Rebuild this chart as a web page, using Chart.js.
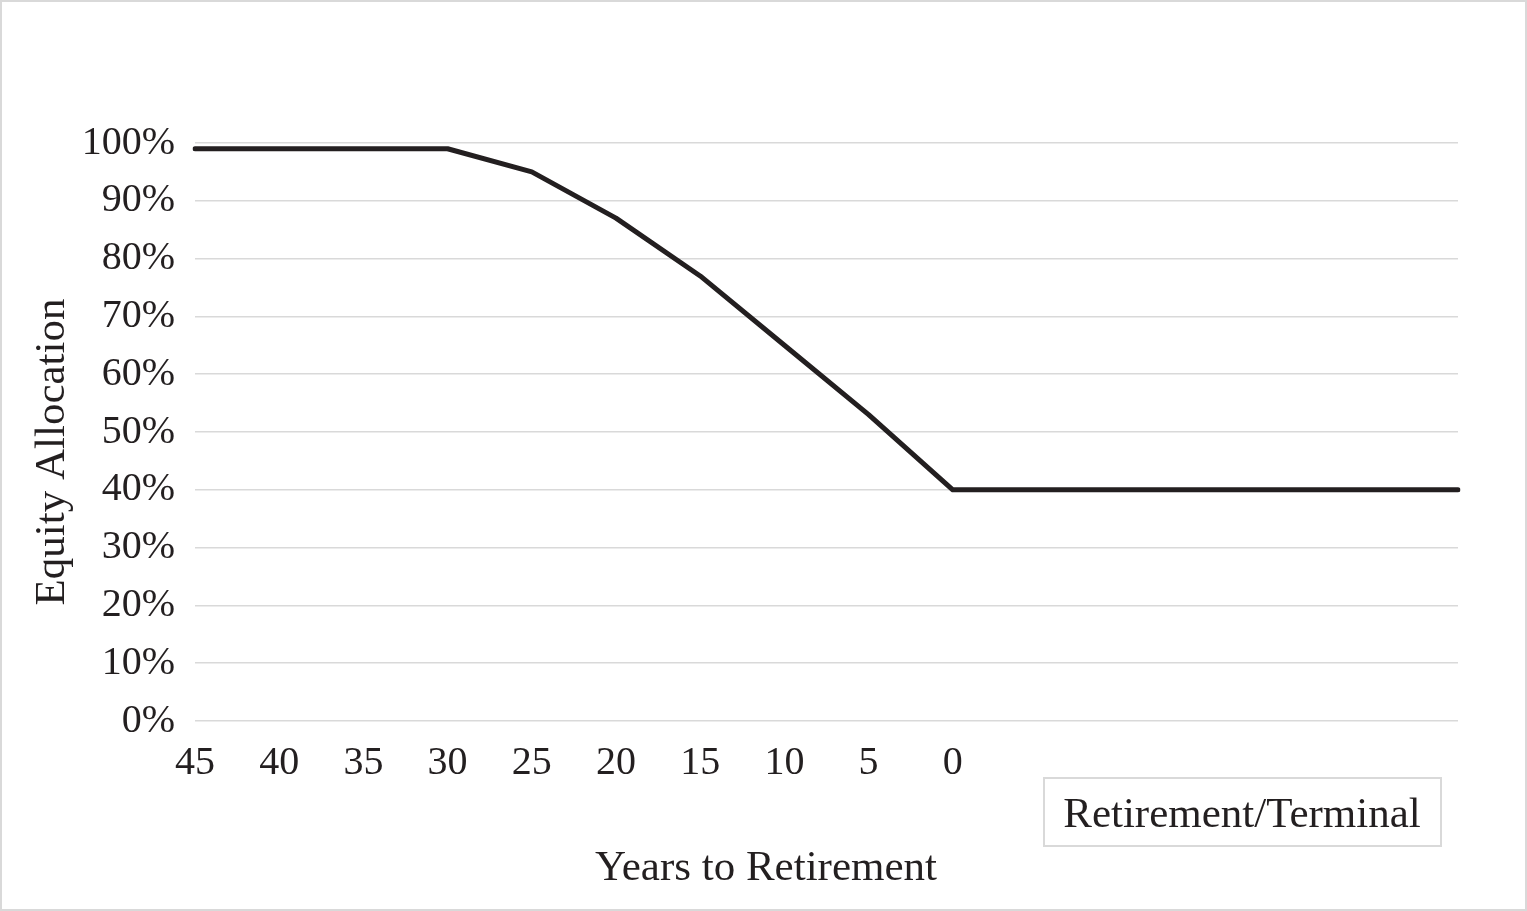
<!DOCTYPE html>
<html>
<head>
<meta charset="utf-8">
<script src="https://cdn.jsdelivr.net/npm/chart.js@4.4.1/dist/chart.umd.min.js"></script>
<style>
  html, body { margin: 0; padding: 0; background: #fff; }
  #wrap { position: relative; width: 1527px; height: 911px; }
  #frame { position: absolute; left: 0; top: 0; width: 1527px; height: 911px;
           box-sizing: border-box; border: 2px solid #d9d9d9; pointer-events: none; }
</style>
</head>
<body>
<div id="wrap">
  <canvas id="glide" width="1527" height="911"></canvas>
  <div id="frame"></div>
</div>
<script>
// Categories (years to retirement), blank slots after 0 = retirement/terminal phase
const years = ['45', '40', '35', '30', '25', '20', '15', '10', '5', '0', '', '', '', '', '', ''];
// Equity allocation in percent
const equity = [99, 99, 99, 99, 95, 87, 77, 65, 53, 40, 40, 40, 40, 40, 40, 40];
const yMin = 0;
const yMax = 100;
const yStep = 10;

const textColor = '#231f20';
const serif = '"Liberation Serif", "Times New Roman", serif';

// Axis titles and the "Retirement/Terminal" box, drawn after the chart
const annotations = {
    id: 'annotations',
    afterDraw(chart) {
        const ctx = chart.ctx;
        ctx.save();
        ctx.fillStyle = textColor;
        ctx.font = '43px ' + serif;

        // x title
        ctx.textAlign = 'center';
        ctx.textBaseline = 'alphabetic';
        ctx.fillText('Years to Retirement', 766, 880);

        // y title (rotated)
        ctx.save();
        ctx.translate(64, 452);
        ctx.rotate(-Math.PI / 2);
        ctx.fillText('Equity Allocation', 0, 0);
        ctx.restore();

        // text box
        ctx.strokeStyle = '#d9d9d9';
        ctx.lineWidth = 2;
        ctx.strokeRect(1044, 778, 397, 68);
        ctx.fillText('Retirement/Terminal', 1242, 827);
        ctx.restore();
    }
};

const ctx = document.getElementById('glide').getContext('2d');
new Chart(ctx, {
    type: 'line',
    data: {
        labels: years,
        datasets: [{
            label: 'Equity Allocation',
            data: equity,
            borderColor: '#231f20',
            borderWidth: 5,
            borderCapStyle: 'round',
            borderJoinStyle: 'round',
            pointRadius: 0,
            tension: 0,
            fill: false
        }]
    },
    options: {
        responsive: false,
        animation: false,
        layout: {
            padding: { left: 60, right: 69, top: 143, bottom: 0 }
        },
        plugins: {
            legend: { display: false },
            tooltip: { enabled: false }
        },
        scales: {
            x: {
                offset: false,
                grid: { display: false, drawTicks: false },
                border: { display: false },
                ticks: {
                    color: textColor,
                    font: { family: serif, size: 40 },
                    padding: 18,
                    maxRotation: 0,
                    autoSkip: false
                },
                afterFit(scale) { scale.height = 190; }
            },
            y: {
                min: yMin,
                max: yMax,
                grid: { color: '#d9d9d9', lineWidth: 1.5, drawTicks: false },
                border: { display: false },
                ticks: {
                    stepSize: yStep,
                    color: textColor,
                    font: { family: serif, size: 40 },
                    padding: 20,
                    callback: v => v + '%'
                },
                afterFit(scale) { scale.width = 135; }
            }
        }
    },
    plugins: [annotations]
});
</script>
</body>
</html>
